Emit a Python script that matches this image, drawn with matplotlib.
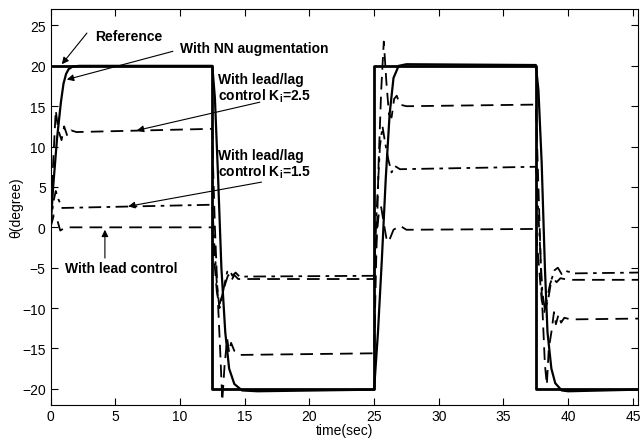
import matplotlib
matplotlib.use('Agg')
import matplotlib.pyplot as plt

plt.rcParams['font.family'] = ['Liberation Sans', 'DejaVu Sans']
plt.rcParams['mathtext.fontset'] = 'custom'
plt.rcParams['mathtext.rm'] = 'Liberation Sans'
plt.rcParams['mathtext.bf'] = 'Liberation Sans:bold'

# square wave reference
ref_t = [0, 12.5, 12.5, 25, 25, 37.5, 37.5, 45.4]
ref_y = [20, 20, -20, -20, 20, 20, -20, -20]

# with NN augmentation
nn_t = [0, 0.2, 0.5, 0.8, 1.0, 1.2, 1.4, 1.7, 2.2, 12.5,
        12.7, 12.95, 13.2, 13.5, 13.8, 14.2, 14.8, 16, 25,
        25.3, 25.6, 25.9, 26.2, 26.5, 26.9, 27.5, 37.5,
        37.7, 37.95, 38.2, 38.4, 38.7, 39.0, 39.5, 40, 45.4]
nn_y = [0, 5, 11, 15.5, 17.8, 19, 19.6, 19.9, 20, 20,
        16, 6, -5, -13, -17.5, -19.4, -20.2, -20.3, -20.1,
        -13, -4, 6, 14, 18.5, 20, 20.2, 20.1,
        17, 8, -5, -13, -17.5, -19.3, -20.2, -20.3, -20.1]

# with lead/lag control Ki=2.5
k25_t = [0, 0.2, 0.4, 0.6, 0.85, 1.05, 1.3, 1.6, 2, 12.5,
         12.55, 12.7, 12.9, 13.1, 13.27, 13.45, 13.65, 13.8, 13.95, 14.2, 14.6, 25,
         25.15, 25.35, 25.55, 25.75, 25.95, 26.15, 26.35, 26.55, 26.75, 27, 27.5, 37.5,
         37.7, 37.95, 38.2, 38.35, 38.5, 38.7, 38.9, 39.05, 39.25, 39.45, 39.7, 40.2, 45.4]
k25_y = [0, 8, 14.5, 12, 10.8, 12.5, 11.3, 12, 11.8, 12.2,
         8, 0, -8, -15, -21.5, -17, -13.8, -15.5, -14.3, -15.3, -15.8, -15.6,
         -5, 8, 17, 23, 18, 14, 13.6, 15.9, 16.3, 15.2, 15, 15.2,
         5, -8, -17, -19.5, -15, -13, -10.5, -12, -10.8, -11.8, -11.2, -11.4, -11.3]

# with lead/lag control Ki=1.5
k15_t = [0, 0.2, 0.4, 0.6, 0.9, 12.5,
         12.65, 12.85, 13.05, 13.2, 13.45, 13.65, 13.85, 14.05, 14.3, 14.6, 25,
         25.2, 25.45, 25.65, 25.85, 26.1, 26.35, 26.6, 27, 37.5,
         37.75, 38.0, 38.2, 38.45, 38.7, 38.95, 39.2, 39.5, 39.8, 40.5, 45.4]
k15_y = [0, 3, 4.5, 3.5, 2.4, 2.8,
         -2, -7, -10, -9, -7, -5.5, -5.3, -6.0, -5.6, -6.1, -6.0,
         2, 10, 12.5, 10.5, 8.4, 6.8, 7.6, 7.2, 7.5,
         0, -8, -10.2, -9, -6.5, -5.3, -5.0, -5.8, -5.4, -5.7, -5.6]

# with lead control
lead_t = [0, 0.25, 0.5, 0.75, 0.95, 1.2, 12.5,
          12.65, 12.85, 13.05, 13.25, 13.5, 13.7, 13.85, 14.0, 14.2, 14.5, 25,
          25.15, 25.35, 25.55, 25.75, 26.0, 26.2, 26.5, 27.0, 27.5, 37.5,
          37.7, 37.95, 38.15, 38.35, 38.6, 38.8, 39.1, 39.4, 40, 45.4]
lead_y = [0, 1.5, 1, -0.4, -0.2, 0, 0,
          -4, -8, -9.5, -8.5, -7, -6, -5.8, -6.5, -5.9, -6.4, -6.4,
          -2, 1.5, 2.5, 0.5, -1.8, -1.5, -0.3, 0.2, -0.3, -0.2,
          -4, -9, -10.5, -9, -7, -6.2, -6.8, -6.3, -6.5, -6.5]

fig = plt.figure(figsize=(6.4, 4.39), dpi=100)
ax = fig.add_axes([0.079, 0.0752, 0.918, 0.9013])

ax.plot(ref_t, ref_y, color='black', lw=2.0)
ax.plot(nn_t, nn_y, color='black', lw=1.6)
ax.plot(k25_t, k25_y, color='black', lw=1.3, dashes=(7, 4))
ax.plot(k15_t, k15_y, color='black', lw=1.3, dashes=(7, 3, 2, 3))
ax.plot(lead_t, lead_y, color='black', lw=1.3, dashes=(7, 4))

ax.set_xlim(0, 45.4)
ax.set_ylim(-22, 27)
ax.set_xticks(range(0, 46, 5))
ax.set_yticks(range(-20, 26, 5))
ax.tick_params(direction='in', length=5, top=True, right=True, labelsize=10)
ax.tick_params(axis='x', pad=3)
ax.set_xlabel('time(sec)', fontsize=10, labelpad=0)
ax.set_ylabel('θ(degree)', fontsize=10, labelpad=-1)

arr = dict(arrowstyle='-|>', color='black', lw=0.8, mutation_scale=10, shrinkA=0, shrinkB=0)
tk = dict(fontsize=10, fontweight='bold', va='center', ha='left', linespacing=1.05)

ax.text(3.42, 23.7, 'Reference', **tk)
ax.annotate('', xy=(0.87, 20.2), xytext=(2.81, 24.06), arrowprops=arr)

ax.text(9.99, 22.2, 'With NN augmentation', **tk)
ax.annotate('', xy=(1.26, 18.3), xytext=(9.45, 21.8), arrowprops=arr)

ax.text(12.93, 17.2, 'With lead/lag\ncontrol K$_\\mathbf{i}$=2.5', **tk)
ax.annotate('', xy=(6.67, 12.0), xytext=(16.17, 15.5), arrowprops=arr)

ax.text(12.93, 7.8, 'With lead/lag\ncontrol K$_\\mathbf{i}$=1.5', **tk)
ax.annotate('', xy=(6.0, 2.6), xytext=(16.3, 5.6), arrowprops=arr)

ax.text(1.1, -5.0, 'With lead control', **tk)
ax.annotate('', xy=(4.2, -0.3), xytext=(4.2, -3.8), arrowprops=arr)

fig.savefig('out.png', dpi=100)
